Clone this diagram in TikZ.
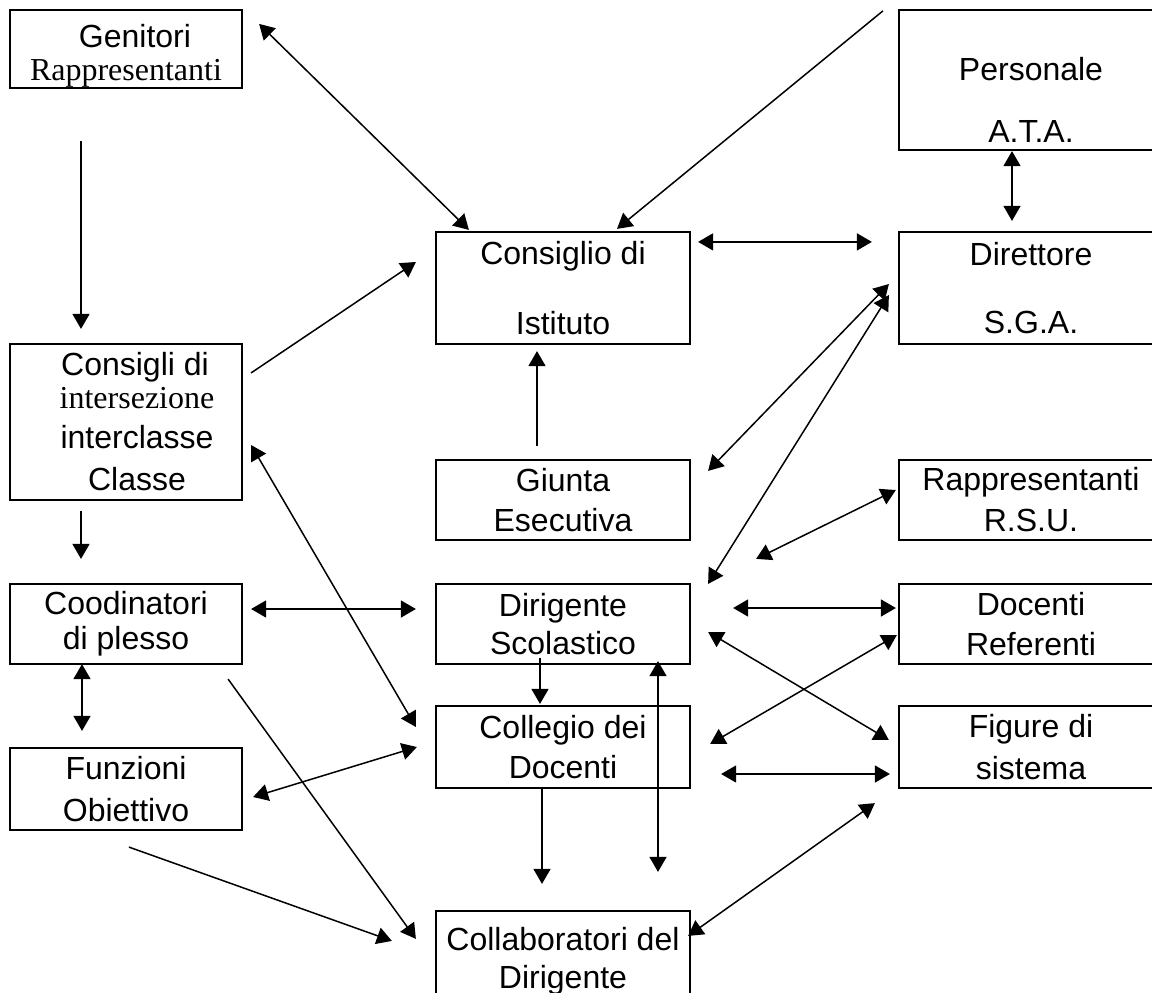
\documentclass[tikz,border=0pt]{standalone}
\usepackage{fontspec}
\setmainfont{Liberation Sans}
\newfontfamily\timesfont{Liberation Serif}
\usetikzlibrary{arrows.meta, calc}
\newcommand{\padtop}[1]{\rule{0pt}{#1}}
\tikzset{
  box/.style   = {rectangle, draw=black, line width=1.1pt, inner xsep=1pt,
                  inner ysep=0pt, align=center, font=\fontsize{16}{20}\selectfont},
  lbox/.style  = {box, minimum width=116pt, minimum height=40pt},
  mbox/.style  = {box, minimum width=127pt, minimum height=40pt},
  rbox/.style  = {box, minimum width=132pt, minimum height=40pt},
  arr/.style   = {-{Triangle[length=7.5pt, width=8.5pt]}, line width=0.75pt},
  biarr/.style = {{Triangle[length=7.5pt, width=8.5pt]}-{Triangle[length=7.5pt, width=8.5pt]},
                  line width=0.75pt},
}

\begin{document}
\begin{tikzpicture}[x=0.5pt, y=-0.5pt]
  \useasboundingbox (0,0) rectangle (1152,992);
  \clip (0,0) rectangle (1152,992);

  % Left column
  \node[lbox, minimum height=39pt] (gen) at (126,49)
    {\padtop{18pt}\hspace*{9pt}Genitori\\[-3.5pt]{\timesfont Rappresentanti}};
  \node[lbox, minimum height=78pt] (cons) at (126,422)
    {\hspace*{9pt}Consigli di\\[-3.5pt]\hspace*{11pt}{\timesfont intersezione}\\
     \hspace*{11pt}interclasse\\[1pt]\hspace*{11pt}Classe};
  \node[lbox] (coord) at (126,624) {Coodinatori\\[-2.5pt]di plesso};
  \node[lbox, minimum height=41pt] (funz) at (126,789) {Funzioni\\[1pt]Obiettivo};

  % Middle column
  \node[mbox, minimum height=56pt] (cdi) at (563,288) {Consiglio di\\[15pt]Istituto};
  \node[mbox] (giunta) at (563,500) {Giunta\\Esecutiva};
  \node[mbox] (dir) at (563,624) {Dirigente\\[-1pt]Scolastico};
  \node[mbox, minimum height=41pt] (coll) at (563,747) {Collegio dei\\Docenti};
  \node[mbox, minimum height=45pt] (collab) at (563,956)
    {\padtop{16.5pt}Collaboratori del\\[-1pt]Dirigente};

  % Right column
  \node[rbox, minimum height=70pt] (ata) at (1031,80) {\padtop{31pt}Personale\\[11pt]A.T.A.};
  \node[rbox, minimum height=56pt] (dsga) at (1031,288) {Direttore\\[14pt]S.G.A.};
  \node[rbox] (rsu) at (1031,500) {Rappresentanti\\[0.5pt]R.S.U.};
  \node[rbox] (docref) at (1031,624) {Docenti\\Referenti};
  \node[rbox, minimum height=41pt] (fig) at (1031,747) {Figure di\\[1pt]sistema};

  % Links to Consiglio di Istituto
  \draw[biarr] ($(gen.north east)+(16,15)$) -- ($(cdi.north west)+(34,-1)$);
  \draw[arr] ($(ata.north west)+(-15,2)$) -- ($(cdi.north)+(54,-2)$);
  \draw[biarr] ($(cdi.north east)+(7,11)$) -- ($(dsga.north west)+(-26,11)$);
  \draw[arr] ($(cons.north east)+(8,30)$) -- ($(cdi.west)+(-19,-26)$);
  \draw[arr] ($(giunta.north)+(-26,-13)$) -- ($(cdi.south)+(-26,6)$);

  % Direttore S.G.A.
  \draw[biarr] ($(ata.south)+(-19,0)$) -- ($(dsga.north)+(-19,-10)$);
  \draw[biarr] ($(dsga.west)+(-9,-4)$) -- ($(giunta.north east)+(17,12)$);
  \draw[biarr] ($(dsga.west)+(-9,7)$) -- ($(dir.north east)+(17,1)$);

  % Right side of Dirigente and Collegio
  \draw[biarr] ($(rsu.west)+(-2,-10)$) -- ($(dir.north east)+(65,-24)$);
  \draw[biarr] ($(dir.east)+(42,-16)$) -- ($(docref.west)+(-2,-16)$);
  \draw[biarr] ($(dir.east)+(17,8)$) -- ($(fig.west)+(-9,-7)$);
  \draw[biarr] ($(docref.west)+(-1,11)$) -- ($(coll.east)+(19,-3)$);
  \draw[biarr] ($(coll.east)+(30,27)$) -- ($(fig.west)+(-8,27)$);
  \draw[biarr] ($(collab.north east)+(-3,26)$) -- ($(fig.south west)+(-23,14)$);

  % Middle column, going down
  \draw[arr] ($(dir.south)+(-23,-7)$) -- ($(coll.north)+(-23,-1)$);
  \draw[biarr] ($(dir.south)+(95,-4)$) -- ($(collab.north)+(95,-38)$);
  \draw[arr] ($(coll.south)+(-21,-1)$) -- ($(collab.north)+(-21,-26)$);

  % Left column
  \draw[arr] ($(gen.south)+(-45,52)$) -- ($(cons.north)+(-45,-14)$);
  \draw[arr] ($(cons.south)+(-45,10)$) -- ($(coord.north)+(-45,-24)$);
  \draw[biarr] ($(coord.south)+(-44,-1)$) -- ($(funz.north)+(-44,-16)$);
  \draw[biarr] ($(coord.east)+(8,-15)$) -- ($(dir.west)+(-19,-15)$);
  \draw[biarr] ($(cons.east)+(8,23)$) -- ($(coll.west)+(-19,-20)$);
  \draw[biarr] ($(funz.east)+(10,8)$) -- ($(coll.west)+(-18,0)$);
  \draw[arr] ($(coord.south east)+(-15,14)$) -- ($(collab.north west)+(-19,29)$);
  \draw[arr] ($(funz.south)+(3,16)$) -- ($(collab.north west)+(-43,31)$);

\end{tikzpicture}
\end{document}
